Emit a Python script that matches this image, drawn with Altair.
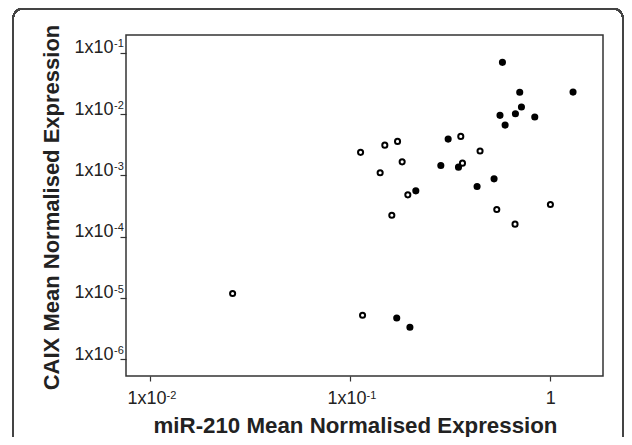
import altair as alt
import pandas as pd

# Filled circles
filled_x = [0.577, 0.704, 1.300, 0.718, 0.561, 0.670, 0.837, 0.595, 0.309,
            0.284, 0.348, 0.524, 0.431, 0.213, 0.171, 0.199]
filled_y = [0.0697, 0.0226, 0.0228, 0.0130, 0.00951, 0.0101, 0.00892, 0.0066,
            0.0039, 0.00145, 0.00136, 0.000877, 0.000659, 0.000559, 4.72e-6, 3.33e-6]
# Open circles
open_x = [0.1128, 0.1491, 0.1726, 0.182, 0.1413, 0.1943, 0.1616, 0.3573,
          0.446, 0.3643, 0.5406, 0.667, 1.002, 0.02588, 0.1154]
open_y = [0.00237, 0.00311, 0.00358, 0.00166, 0.0011, 0.000481, 0.000224,
          0.00432, 0.00249, 0.00158, 0.000278, 0.00016, 0.000335, 1.18e-5, 5.23e-6]

# Tick labels: base text and superscript exponent
x_ticks = [0.01, 0.1, 1]
x_base = ["1x10", "1x10", "1"]
x_exp = ["-2", "-1", ""]
y_ticks = [1e-6, 1e-5, 1e-4, 1e-3, 1e-2, 1e-1]
y_base = ["1x10", "1x10", "1x10", "1x10", "1x10", "1x10"]
y_exp = ["-6", "-5", "-4", "-3", "-2", "-1"]

x_domain = [0.00759, 1.835]
y_domain = [5.34e-7, 0.1945]

df = pd.DataFrame({
    "mir210": filled_x + open_x,
    "caix": filled_y + open_y,
    "group": ["filled"] * len(filled_x) + ["open"] * len(open_x),
})
x_sup = pd.DataFrame({"mir210": x_ticks, "exp": x_exp})
x_sup = x_sup[x_sup["exp"] != ""]
y_sup = pd.DataFrame({"caix": y_ticks, "exp": y_exp})


def label_expr(ticks, labels):
    labs = ",".join("'" + l + "'" for l in labels)
    vals = ",".join(repr(v) for v in ticks)
    return f"[{labs}][indexof([{vals}], datum.value)]"


FONT = "Liberation Sans"
TXT = "#222"

x_scale = alt.Scale(type="log", domain=x_domain, nice=False, zero=False)
y_scale = alt.Scale(type="log", domain=y_domain, nice=False, zero=False)

points = alt.Chart(df).mark_circle(
    size=26, stroke="black", strokeWidth=2, opacity=1
).encode(
    x=alt.X(
        "mir210:Q",
        scale=x_scale,
        axis=alt.Axis(
            values=x_ticks,
            labelExpr=label_expr(x_ticks, x_base),
            tickSize=5, tickColor="#333", tickWidth=1.2,
            domain=False, grid=False,
            labelFont=FONT, labelFontSize=18, labelColor=TXT,
            labelAlign={"condition": {"test": "datum.value >= 1", "value": "center"},
                        "value": "right"},
            labelOffset={"condition": {"test": "datum.value >= 1", "value": 0},
                         "value": 16},
            labelBaseline="alphabetic", labelPadding=22.5,
            labelFlush=False, labelOverlap=False,
            title="miR-210 Mean Normalised Expression",
            titleFont=FONT, titleFontSize=22.3, titleFontWeight="bold",
            titleColor=TXT, titleX=229, titleY=56,
            titleBaseline="alphabetic", titleAlign="center",
        ),
    ),
    y=alt.Y(
        "caix:Q",
        scale=y_scale,
        axis=alt.Axis(
            values=y_ticks,
            labelExpr=label_expr(y_ticks, y_base),
            tickSize=6, tickColor="#333", tickWidth=1.2,
            domain=False, grid=False,
            labelFont=FONT, labelFontSize=18, labelColor=TXT,
            labelAlign="right", labelBaseline="alphabetic", labelPadding=7,
            labelOverlap=False,
            title="CAIX Mean Normalised Expression",
            titleFont=FONT, titleFontSize=22, titleFontWeight="bold",
            titleColor=TXT, titleX=-68, titleY=172, titleAngle=270,
            titleBaseline="alphabetic", titleAlign="center",
        ),
    ),
    fill=alt.Fill(
        "group:N",
        scale=alt.Scale(domain=["filled", "open"], range=["black", "white"]),
        legend=None,
    ),
)

x_sup_text = alt.Chart(x_sup).mark_text(
    font=FONT, fontSize=11, color=TXT, align="left", baseline="alphabetic",
    dx=16.5, clip=False
).encode(
    x=alt.X("mir210:Q", scale=x_scale),
    y=alt.value(363.5),
    text="exp:N",
)

y_sup_text = alt.Chart(y_sup).mark_text(
    font=FONT, fontSize=11, color=TXT, align="left", baseline="alphabetic",
    dy=-5.3, clip=False
).encode(
    x=alt.value(-12),
    y=alt.Y("caix:Q", scale=y_scale),
    text="exp:N",
)

frame = alt.Chart(df).mark_rect(
    fill=None, stroke="#444", strokeWidth=1.5, cornerRadius=10, clip=False
).encode(
    x=alt.value(-113), x2=alt.value(497),
    y=alt.value(-26.5), y2=alt.value(440),
)

chart = alt.layer(frame, points, x_sup_text, y_sup_text).properties(
    width=477, height=341,
    autosize=alt.AutoSizeParams(type="none"),
    padding={"left": 118, "top": 27, "right": 21, "bottom": 61},
    background="white",
).configure_view(stroke="#333", strokeWidth=1.5)

chart.save("out.html", embed_options={"renderer": "svg", "actions": False})
